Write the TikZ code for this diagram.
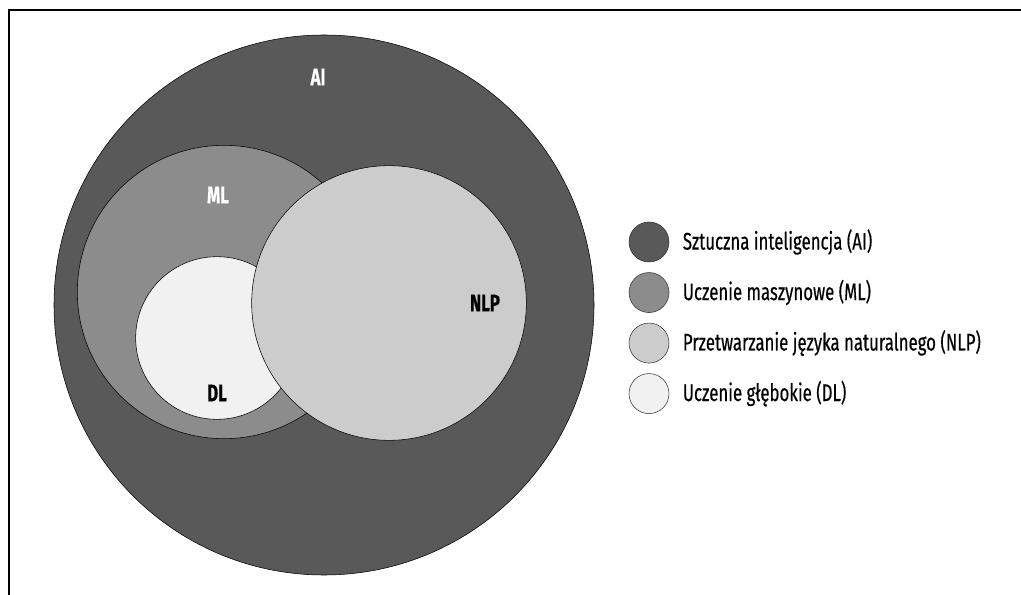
\documentclass[tikz,border=0pt]{standalone}
\usepackage{fontspec}
\setmainfont{Fira Sans}[FakeStretch=0.7, FakeBold=0.4]
\usepackage{tikz}
\usetikzlibrary{positioning}

\definecolor{aigray}{HTML}{595959}
\definecolor{mlgray}{HTML}{8C8C8C}
\definecolor{nlpgray}{HTML}{CCCCCC}
\definecolor{dlgray}{HTML}{F1F1F1}

\begin{document}
\begin{tikzpicture}[
x=0.75pt, y=-0.75pt,
setnode/.style={circle, draw=black, thin, inner sep=0pt},
keynode/.style={circle, draw=black!80, thin, inner sep=0pt, minimum size=30pt},
txtnode/.style={font=\fontsize{18}{20}\selectfont, inner sep=0pt},
labnode/.style={font=\fontsize{18}{20}\selectfont\bfseries, inner sep=0pt},
]
\useasboundingbox (0,0) rectangle (1021,595);
%Frame
\draw[line width=2pt] (9,595) -- (9,10) -- (1021,10);
%Sets
\node[setnode, fill=aigray, minimum size=405pt](ai) at (324,305){};
\node[setnode, fill=mlgray, minimum size=220pt](ml) at (224,292){};
\node[setnode, fill=dlgray, minimum size=122pt](dl) at (217,338){};
\node[setnode, fill=nlpgray, minimum size=206pt](nlp) at (389,303){};
%Labels
\node[labnode, text=white](ailab) at (318,77){AI};
\node[labnode, text=white](mllab) at (218,195){ML};
\node[labnode](nlplab) at (485,303){NLP};
\node[labnode](dllab) at (217,393){DL};
%Legend
\node[keynode, fill=aigray](kai) at (649,242){};
\node[keynode, fill=mlgray, below=7.5pt of kai](kml){};
\node[keynode, fill=nlpgray, below=7.5pt of kml](knlp){};
\node[keynode, fill=dlgray, below=7.5pt of knlp](kdl){};
\node[txtnode, right=10pt of kai](tai){Sztuczna inteligencja (AI)};
\node[txtnode, right=10pt of kml](tml){Uczenie maszynowe (ML)};
\node[txtnode, right=10pt of knlp](tnlp){Przetwarzanie języka naturalnego (NLP)};
\node[txtnode, right=10pt of kdl](tdl){Uczenie głębokie (DL)};
\end{tikzpicture}
\end{document}
